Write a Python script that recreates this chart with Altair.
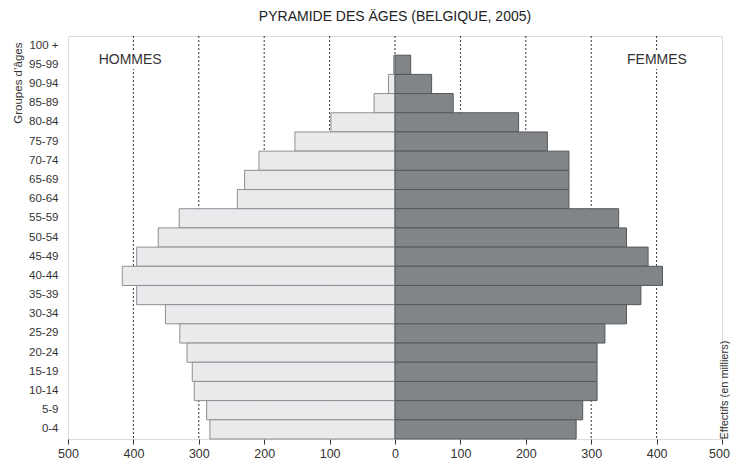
import altair as alt
import pandas as pd

# ---- data (thousands of people) ----
ages = ["100 +", "95-99", "90-94", "85-89", "80-84", "75-79", "70-74", "65-69",
        "60-64", "55-59", "50-54", "45-49", "40-44", "35-39", "30-34", "25-29",
        "20-24", "15-19", "10-14", "5-9", "0-4"]
hommes = [0, 2, 10, 32, 98, 153, 208, 230, 241, 330, 362, 395, 417, 395, 351,
          329, 318, 310, 307, 288, 283]
femmes = [0, 24, 56, 89, 189, 233, 266, 266, 266, 342, 354, 387, 409, 376, 354,
          321, 309, 309, 309, 287, 277]
x_ticks = [-500, -400, -300, -200, -100, 0, 100, 200, 300, 400, 500]
grid_vals = [-400, -300, -200, -100, 0, 100, 200, 300, 400]
sex_labels = ["HOMMES", "FEMMES"]
label_from = [-470, 335]
label_to = [-340, 466]

FONT = "Liberation Sans"

df = pd.DataFrame({"age": ages, "hommes": hommes, "femmes": femmes})
grid_df = pd.DataFrame({"g": grid_vals})
lab_df = pd.DataFrame({"lab": sex_labels, "x0": label_from, "x1": label_to})

xscale = alt.Scale(domain=[-500, 500], nice=False, zero=False)
yscale = alt.Scale(domain=ages, paddingInner=0, paddingOuter=0)

x_axis = alt.Axis(
    values=x_ticks, labelExpr="abs(datum.value)", grid=False, domain=False,
    tickSize=5, tickColor="#333", tickWidth=1, labelFontSize=12.5,
    labelFont=FONT, labelColor="#333", labelPadding=3, labelFlush=False,
    labelOffset={"condition": {"test": "datum.value == 500", "value": -3},
                 "value": 0},
    title="Effectifs (en milliers)", titleFont=FONT, titleFontSize=11,
    titleFontWeight="normal", titleColor="#333", titleAngle=270,
    titleAlign="left", titleBaseline="middle", titleX=656.5, titleY=0,
)
y_axis = alt.Axis(
    domain=False, ticks=False, labelFont=FONT, labelFontSize=11.5,
    labelColor="#333", labelPadding=10,
    title="Groupes d’âges", titleFont=FONT, titleFontSize=11.5,
    titleFontWeight="normal", titleColor="#333", titleAngle=270,
    titleAlign="right", titleBaseline="middle", titleX=-50, titleY=6,
)

grid = alt.Chart(grid_df).mark_rule(
    color="#333", strokeDash=[2, 2], strokeWidth=1
).encode(x=alt.X("g:Q", scale=xscale, axis=x_axis))

men = alt.Chart(df).transform_filter("datum.hommes > 0").transform_calculate(
    x0="0", x1="-datum.hommes"
).mark_bar(fill="#e9eaec", stroke="#8e8f91", strokeWidth=1).encode(
    x=alt.X("x1:Q", scale=xscale),
    x2="x0:Q",
    y=alt.Y("age:N", sort=ages, scale=yscale, axis=y_axis),
)

women = alt.Chart(df).transform_filter("datum.femmes > 0").transform_calculate(
    x0="0", x1="datum.femmes"
).mark_bar(fill="#828588", stroke="#55585b", strokeWidth=1).encode(
    x=alt.X("x0:Q", scale=xscale),
    x2="x1:Q",
    y=alt.Y("age:N", sort=ages, scale=yscale),
)

boxes = alt.Chart(lab_df).mark_rect(fill="white").encode(
    x=alt.X("x0:Q", scale=xscale),
    x2="x1:Q",
    y=alt.value(14),
    y2=alt.value(33),
)

texts = alt.Chart(lab_df).transform_calculate(
    xc="(datum.x0 + datum.x1) / 2"
).mark_text(font=FONT, fontSize=14, color="#333", baseline="middle",
            align="center").encode(
    x=alt.X("xc:Q", scale=xscale),
    y=alt.value(24),
    text="lab:N",
)

chart = alt.layer(grid, men, women, boxes, texts).properties(
    width=654,
    height=403,
    title=alt.TitleParams(
        "PYRAMIDE DES ÄGES (BELGIQUE, 2005)", font=FONT, fontSize=14,
        fontWeight="normal", color="#222", anchor="middle", offset=12,
    ),
    autosize=alt.AutoSizeParams(type="none"),
    padding={"left": 60, "top": 28, "right": 8, "bottom": 21},
).configure_view(fill="#eeeff1", stroke=None).configure(background="white")

chart.save("out.html", embed_options={"renderer": "svg", "actions": False})
